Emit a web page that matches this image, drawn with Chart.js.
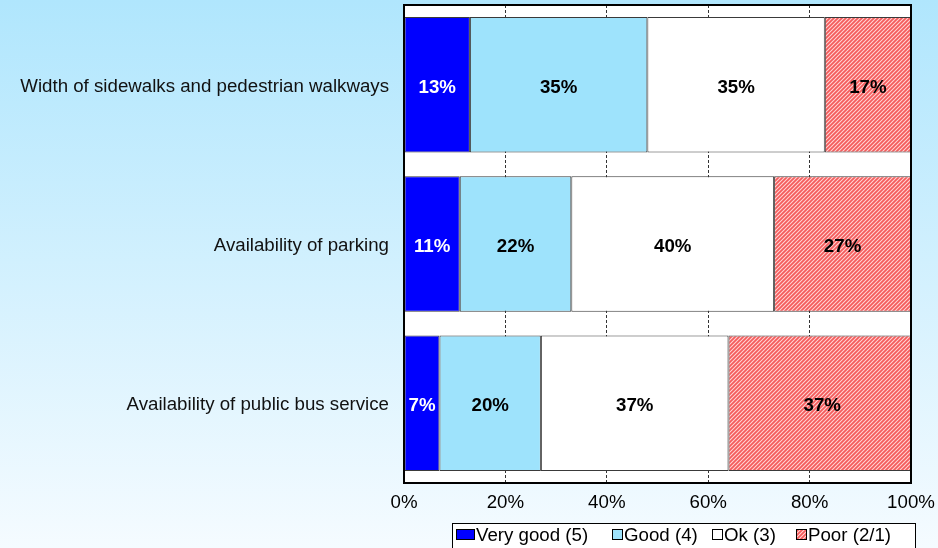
<!DOCTYPE html>
<html>
<head>
<meta charset="utf-8">
<script src="https://cdn.jsdelivr.net/npm/chart.js@4/dist/chart.umd.min.js"></script>
<style>
  html, body { margin: 0; padding: 0; }
  body {
    width: 938px; height: 548px; overflow: hidden;
    background: linear-gradient(to bottom, #b0e6fd 0%, #f5fbff 100%);
  }
  #wrap { position: relative; width: 938px; height: 548px; }
</style>
</head>
<body>
<div id="wrap"><canvas id="c" width="938" height="548"></canvas></div>
<script>
// Survey ratings, percent of respondents per item
const categories = [
  'Width of sidewalks and pedestrian walkways',
  'Availability of parking',
  'Availability of public bus service'
];
const seriesNames = ['Very good (5)', 'Good (4)', 'Ok (3)', 'Poor (2/1)'];
const veryGood = [13, 11, 7];
const good     = [35, 22, 20];
const ok       = [35, 40, 37];
const poor     = [17, 27, 37];
const tickLabels = ['0%', '20%', '40%', '60%', '80%', '100%'];

const FONT = "'Liberation Sans', Arial, Helvetica, sans-serif";
const FS = 18.7;

// diagonal red hatch used for the "Poor" segments
function makeHatch() {
  const p = document.createElement('canvas');
  p.width = 4; p.height = 4;
  const g = p.getContext('2d');
  g.fillStyle = '#ffd6d6';
  g.fillRect(0, 0, 4, 4);
  g.strokeStyle = '#f45c5c';
  g.lineWidth = 1.8;
  g.beginPath();
  g.moveTo(0, 4); g.lineTo(4, 0);
  g.moveTo(-1, 1); g.lineTo(1, -1);
  g.moveTo(3, 5); g.lineTo(5, 3);
  g.stroke();
  return document.getElementById('c').getContext('2d').createPattern(p, 'repeat');
}
const hatch = makeHatch();
const fills = ['#0000ff', '#9ee3fc', '#ffffff', hatch];
const seriesValues = [veryGood, good, ok, poor];

const plotBackground = {
  id: 'plotBackground',
  beforeDraw(chart) {
    const { ctx, chartArea: a } = chart;
    ctx.save();
    ctx.fillStyle = '#ffffff';
    ctx.fillRect(a.left, a.top, a.right - a.left, a.bottom - a.top);
    ctx.restore();
  }
};

const segmentLabels = {
  id: 'segmentLabels',
  afterDatasetsDraw(chart) {
    const { ctx, chartArea: a } = chart;
    ctx.save();
    ctx.font = 'bold ' + FS + 'px ' + FONT;
    ctx.textAlign = 'center';
    ctx.textBaseline = 'middle';
    chart.data.datasets.forEach((ds, di) => {
      const meta = chart.getDatasetMeta(di);
      meta.data.forEach((bar, i) => {
        const x0 = Math.max(bar.base, a.left);
        const x1 = Math.min(bar.x, a.right + 10);
        ctx.fillStyle = di === 0 ? '#ffffff' : '#000000';
        ctx.fillText(ds.data[i] + '%', (x0 + x1) / 2, bar.y + 3);
      });
    });
    ctx.restore();
  }
};

const frameAndLegend = {
  id: 'frameAndLegend',
  afterDraw(chart) {
    const { ctx, chartArea: a } = chart;
    ctx.save();
    // plot frame
    ctx.strokeStyle = '#000000';
    ctx.lineWidth = 2;
    ctx.strokeRect(a.left, a.top, a.right - a.left, a.bottom - a.top);

    // legend box
    const bx = 452.5, by = 523.5, bw = 463, bh = 40;
    ctx.lineWidth = 1;
    ctx.fillStyle = '#ffffff';
    ctx.fillRect(bx, by, bw, bh);
    ctx.strokeRect(bx, by, bw, bh);

    ctx.font = FS + 'px ' + FONT;
    ctx.textBaseline = 'middle';
    ctx.textAlign = 'left';
    const itemX = [456, 612, 712, 796];
    const cy = 535;
    seriesNames.forEach((name, i) => {
      const x = itemX[i];
      const sw = i === 0 ? 19 : 11;
      ctx.fillStyle = fills[i];
      ctx.fillRect(x, cy - 6, sw, 11);
      ctx.strokeStyle = '#000000';
      ctx.lineWidth = 1;
      ctx.strokeRect(x + 0.5, cy - 5.5, sw - 1, 10);
      ctx.fillStyle = '#000000';
      ctx.fillText(name, x + sw + 1, cy + 1);
    });
    ctx.restore();
  }
};

new Chart(document.getElementById('c'), {
  type: 'bar',
  data: {
    labels: categories,
    datasets: seriesNames.map((name, i) => ({
      label: name,
      data: seriesValues[i],
      backgroundColor: fills[i],
      borderColor: '#3a3a3a',
      borderWidth: 1,
      borderSkipped: false,
      categoryPercentage: 1,
      barPercentage: 0.85
    }))
  },
  options: {
    indexAxis: 'y',
    responsive: false,
    animation: false,
    layout: { padding: { top: 5, right: 27, left: 0, bottom: 0 } },
    plugins: {
      legend: { display: false },
      tooltip: { enabled: false }
    },
    scales: {
      x: {
        stacked: true,
        min: 0,
        max: 100,
        ticks: {
          stepSize: 20,
          color: '#000000',
          font: { size: FS, family: FONT },
          padding: 9,
          callback: (v, i) => tickLabels[i]
        },
        grid: { color: '#333333', lineWidth: 1, drawTicks: false },
        border: { display: false, dash: [3, 2] },
        afterFit(s) { s.height = 65; s.paddingLeft = 0; s.paddingRight = 0; }
      },
      y: {
        stacked: true,
        ticks: {
          color: '#111111',
          font: { size: FS, family: FONT },
          padding: 7,
          labelOffset: 2
        },
        grid: { display: false },
        border: { display: false },
        afterFit(s) { s.width = 404; s.paddingTop = 0; s.paddingBottom = 0; }
      }
    }
  },
  plugins: [plotBackground, segmentLabels, frameAndLegend]
});
</script>
</body>
</html>
